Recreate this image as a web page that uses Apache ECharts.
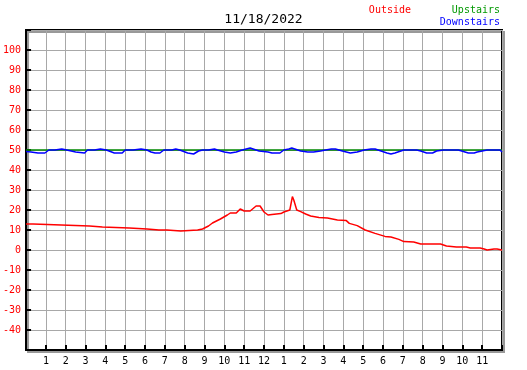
<html>
<head>
    <meta http-equiv="Content-Type" content="text/html; charset=utf-8" />
</head>
<script type="text/javascript" src="https://cdn.jsdelivr.net/npm/echarts@6/dist/echarts.min.js"></script>
<body style="margin:0">
<div id="main" style="width: 527px;height:370px;"></div>
</body>
<script type="text/javascript">
    // data: [hour of day, temperature]
    var chartTitle = '11/18/2022';
    var seriesNames = ['Outside', 'Upstairs', 'Downstairs'];

    var outside = [
        [0,13],[0.35,13],[0.45,12],[3.2,12],[3.25,11.5],[3.85,11.5],[3.9,11],[5.2,11],[5.25,11.3],[5.3,10.5],
        [6.1,10.5],[6.15,10],[6.7,10],[6.8,10.5],[6.9,10],[7.1,10],[7.15,9.5],[7.8,9.5],[7.85,10],[8.65,10],
        [8.7,10.5],[8.9,10.5],[9.0,11],[9.2,12],[9.4,13.5],[9.5,14.5],[9.8,15.5],[10.15,17.5],[10.3,18.5],[10.6,18.5],
        [10.8,20.5],[11.0,19.5],[11.3,19.5],[11.6,22],[11.8,22],[12.0,19],[12.2,17.5],[12.3,18.3],[12.4,17.8],[12.85,18.2],
        [13.0,19],[13.3,20],[13.35,20.3],[13.43,26.7],[13.5,25],[13.65,20],[13.85,19.2],[14.1,18],[14.35,17],[14.77,16.3],
        [15.2,16],[15.7,15],[16.15,14.7],[16.3,13.3],[16.7,12.2],[17.1,10],[17.6,8.3],[18.1,6.8],[18.4,6.5],[18.8,5.3],
        [19.05,4.2],[19.55,4],[19.9,3],[20.7,3],[20.8,3.5],[20.9,3],[21.2,2],[21.7,1.5],[22.2,1.5],[22.4,1],
        [22.9,1],[23.1,0.5],[23.25,0],[23.6,0.5],[23.75,0.5],[24,0]
    ];

    var upstairs = [
        [0,50],[2.8,50],[2.85,49.5],[2.9,50],[4.75,50],[4.8,49.5],[4.85,50],[8.35,50],[8.4,49.5],[8.45,50],[24,50]
    ];

    var downstairs = [
        [0,49.3],[0.25,49],[0.6,48.5],[0.95,48.5],[1.0,49.5],[1.15,50],[1.45,50],[1.5,50.5],[1.8,50.5],[1.85,50],
        [2.05,50],[2.1,49.5],[2.5,49],[2.6,48.5],[2.95,48.5],[3.0,49.5],[3.1,50],[3.45,50],[3.5,50.5],[3.75,50.5],
        [3.8,50],[4.05,50],[4.1,49.5],[4.45,48.5],[4.85,48.5],[5.0,50],[5.4,50],[5.45,50.5],[5.8,50.5],[5.85,50],
        [6.1,50],[6.3,49],[6.5,48.5],[6.75,48.5],[6.95,50],[7.35,50],[7.4,50.5],[7.55,50.5],[7.6,50],[7.75,50],
        [7.8,49.5],[8.15,48.5],[8.45,48],[8.55,48.5],[8.7,49.5],[8.9,50],[9.2,50],[9.25,50.5],[9.5,50.5],[9.55,50],
        [9.65,50],[9.7,49.5],[10.0,49],[10.3,48.5],[10.6,49],[10.65,49.5],[10.9,50],[11.1,50.5],[11.3,51],[11.4,50.5],
        [11.6,50],[11.75,49.5],[12.2,49],[12.4,48.5],[12.8,48.5],[12.85,49],[13.0,50],[13.25,50.5],[13.4,51],[13.55,50.5],
        [13.7,50],[13.85,49.5],[14.2,49],[14.5,49],[14.85,49.5],[15.1,50],[15.4,50.5],[15.6,50.5],[15.7,50],[15.95,49.5],
        [16.35,48.5],[16.7,49],[16.8,49.5],[17.05,50],[17.4,50.5],[17.6,50.5],[17.7,50],[17.9,49.5],[18.2,48.5],[18.4,48],
        [18.6,48.5],[18.7,49.5],[19.05,50],[19.7,50],[19.9,49.5],[20.2,48.5],[20.5,48.5],[20.7,49.5],[21.05,50],[21.8,50],
        [21.9,49.5],[22.3,48.5],[22.6,48.5],[22.75,49],[23.0,49.5],[23.25,50],[23.9,50],[24,49]
    ];

    var yMin = -50, yMax = 110, yStep = 10;

    var font = 'DejaVu Sans Mono';

    var myChart = echarts.init(document.getElementById('main'));

    var option = {
        animation: false,
        backgroundColor: '#fff',
        textStyle: { fontFamily: font },
        graphic: [
            { type: 'text', left: 'center', top: 13, style: { text: chartTitle, font: '13px ' + font, fill: '#000' } },
            { type: 'text', right: 116, top: 5, style: { text: seriesNames[0], font: '10px ' + font, fill: '#ff0000' } },
            { type: 'text', right: 27, top: 5, style: { text: seriesNames[1], font: '10px ' + font, fill: '#009900' } },
            { type: 'text', right: 27, top: 17, style: { text: seriesNames[2], font: '10px ' + font, fill: '#0000ff' } }
        ],
        grid: {
            left: 25, top: 30, right: 25, bottom: 20,
            show: true,
            backgroundColor: '#fff',
            borderColor: '#000',
            borderWidth: 2,
            shadowColor: '#999',
            shadowOffsetX: 2,
            shadowOffsetY: 2,
            shadowBlur: 0
        },
        xAxis: {
            type: 'value',
            min: 0, max: 24, interval: 1,
            axisLine: { show: true, onZero: false, lineStyle: { color: '#000', width: 2 } },
            axisTick: { show: true, inside: true, length: 5, lineStyle: { color: '#000', width: 2 } },
            axisLabel: {
                color: '#000', fontSize: 10, fontFamily: font, margin: 6,
                formatter: function (v) {
                    if (v <= 0 || v >= 24) return '';
                    return String(v % 12 === 0 ? 12 : v % 12);
                }
            },
            splitLine: { show: true, lineStyle: { color: '#a8a8a8', width: 1 } }
        },
        yAxis: {
            type: 'value',
            min: yMin, max: yMax, interval: yStep,
            axisLine: { show: true, onZero: false, lineStyle: { color: '#000', width: 2 } },
            axisTick: { show: true, inside: true, length: 5, lineStyle: { color: '#000', width: 2 } },
            axisLabel: {
                color: '#ff0000', fontSize: 10, fontFamily: font, margin: 5,
                formatter: function (v) {
                    if (v <= yMin || v >= yMax) return '';
                    return String(v);
                }
            },
            splitLine: { show: true, lineStyle: { color: '#a8a8a8', width: 1 } }
        },
        series: [
            { name: seriesNames[1], type: 'line', data: upstairs, symbol: 'none', lineStyle: { color: '#008800', width: 1.5 } },
            { name: seriesNames[2], type: 'line', data: downstairs, symbol: 'none', lineStyle: { color: '#0000ff', width: 1.5 } },
            { name: seriesNames[0], type: 'line', data: outside, symbol: 'none', lineStyle: { color: '#ff0000', width: 1.5 } }
        ]
    };

    myChart.setOption(option);
</script>
</html>
